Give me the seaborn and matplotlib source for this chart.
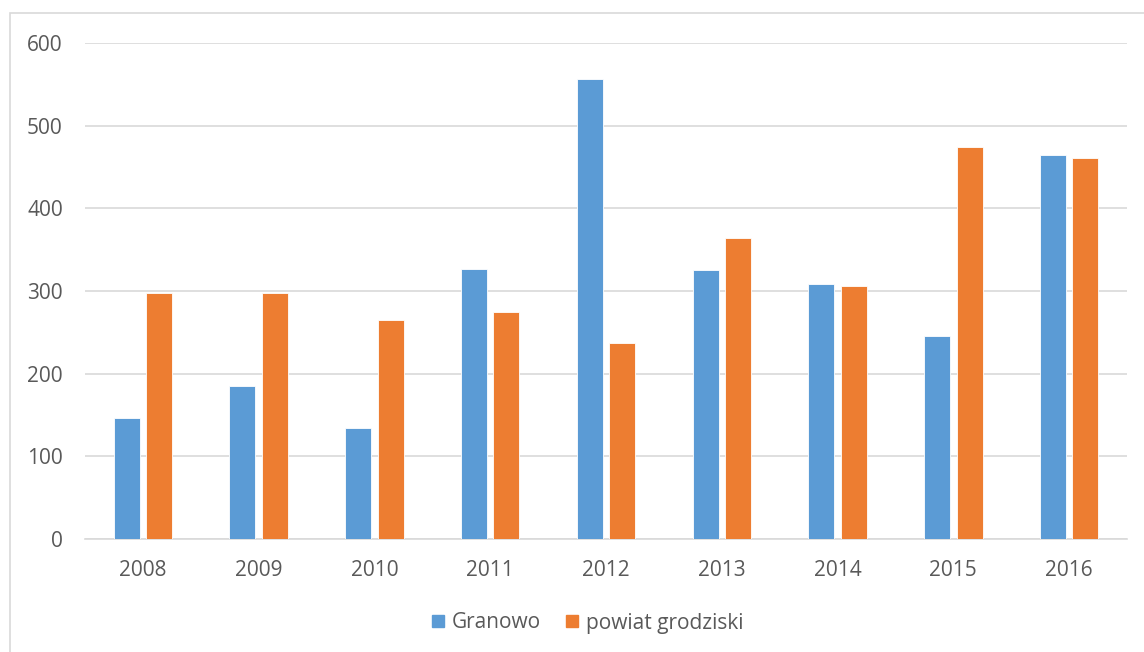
import matplotlib.pyplot as plt
import matplotlib.patches as mpatches
import pandas as pd
import seaborn as sns

# Values.
years = ["2008", "2009", "2010", "2011", "2012", "2013", "2014", "2015", "2016"]
granowo = [146, 185, 134, 327, 556, 325, 308, 245, 465]
powiat = [298, 298, 265, 274, 237, 364, 306, 474, 461]
series_names = ["Granowo", "powiat grodziski"]
colors = ["#5B9BD5", "#ED7D31"]

df = pd.DataFrame({
    "Rok": years * 2,
    "Wartość": granowo + powiat,
    "Seria": [series_names[0]] * len(years) + [series_names[1]] * len(years),
})

sns.set_style("white")
plt.rcParams["font.family"] = ["Open Sans", "DejaVu Sans"]

fig = plt.figure(figsize=(11.44, 6.52), dpi=100)
ax = fig.add_axes([85 / 1144, 113 / 652, (1127 - 85) / 1144, (539 - 43) / 652])

sns.barplot(data=df, x="Rok", y="Wartość", hue="Seria", palette=colors,
            saturation=1, width=0.56, gap=0.2, edgecolor="white", linewidth=0.6,
            ax=ax, legend=True, zorder=3)

ax.set_ylim(0, 600)
ax.set_yticks(range(0, 601, 100))
ax.set_xlim(-0.5, len(years) - 0.5)
ax.grid(axis="y", color="#D9D9D9", linewidth=1.2, zorder=0)
ax.set_axisbelow(True)
for side in ["left", "right", "top"]:
    ax.spines[side].set_visible(False)
ax.spines["bottom"].set_color("#D9D9D9")
ax.spines["bottom"].set_linewidth(1.2)
ax.tick_params(axis="both", length=0, labelsize=15, colors="#595959")
ax.tick_params(axis="y", pad=16)
ax.tick_params(axis="x", pad=15)
ax.set_xlabel("")
ax.set_ylabel("")

ax.legend_.remove()
handles = [mpatches.Patch(color=c, label=n) for c, n in zip(colors, series_names)]
fig.legend(handles=handles, loc="center", bbox_to_anchor=(588 / 1144, 1 - 623 / 652),
           ncol=2, frameon=False, fontsize=15, labelcolor="#595959",
           handlelength=0.55, handleheight=0.55, handletextpad=0.4, columnspacing=1.2)

# Light frame around the chart area (left and top edges visible).
fig.patches.append(mpatches.Rectangle((10 / 1144, -0.1), 1.2, 1.1 - 13 / 652,
                                      transform=fig.transFigure, fill=False,
                                      edgecolor="#D9D9D9", linewidth=1.2))

fig.savefig("out.png", dpi=100)
